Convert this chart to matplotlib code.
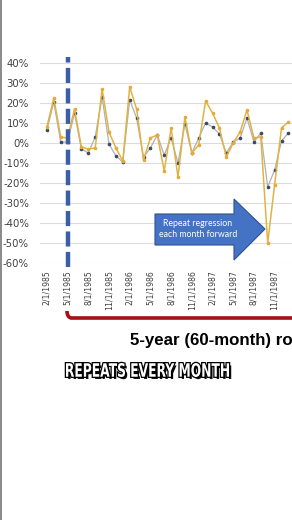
import numpy as np
import pandas as pd
import matplotlib
matplotlib.use("Agg")
import matplotlib.pyplot as plt
from matplotlib.patches import Polygon, PathPatch
from matplotlib.path import Path
from matplotlib.lines import Line2D
from matplotlib.textpath import TextPath
from matplotlib.font_manager import FontProperties
from matplotlib.transforms import Affine2D, IdentityTransform
import matplotlib.patheffects as pe

# monthly returns (%), Feb 1985 .. Jan 1988
months = pd.date_range("1985-02-01", periods=36, freq="MS")
gold_ret = [8, 22.5, 3, 2.5, 17, -2, -3, -2.5, 27, 5.5, -2.5, -9,
            28, 17, -8.5, 2.5, 4, -14, 7.5, -17, 13, -5, -1, 21,
            15, 7.5, -7, 0, 5.5, 16.5, 2.5, 3, -50, -21, 7.5, 10.5]
gray_ret = [6.5, 20.5, 0.5, 0.5, 15, -3, -5, 3, 23, -0.5, -6.5, -9.5,
            21.5, 12.5, -7, -2.5, 4, -6, 2.5, -10, 9.5, -5, 2.5, 10,
            8, 4.5, -5, 0.5, 2.5, 12.5, 0.5, 5, -22, -13.5, 1, 5]
y_ticks = [40, 30, 20, 10, 0, -10, -20, -30, -40, -50, -60]
tick_every = 3  # a date label every 3 months

W, H = 292, 520
fig = plt.figure(figsize=(W / 100, H / 100), dpi=100)
fig.patch.set_facecolor("white")

def fx(px):
    return px / W

def fy(py):
    return 1 - py / H

# axes in pixel terms: plot runs off the right edge like the screenshot
x_idx = np.arange(len(months))
px_per_month = 6.9
left_px = 40
x0 = -1
x1 = 40
ax = fig.add_axes([fx(left_px), fy(263), (x1 - x0) * px_per_month / W, (263 - 63) / H])
ax.set_xlim(x0, x1)
ax.set_ylim(-60, 40)

ax.plot(x_idx, gray_ret, color="#b0b0b0", lw=0.9, marker="o", ms=1.6,
        mfc="#3b4a66", mec="#3b4a66", zorder=3)
ax.plot(x_idx, gold_ret, color="#dfb445", lw=1.1, marker="o", ms=1.6,
        mfc="#e8a93a", mec="#e8a93a", zorder=4)

ax.set_yticks(y_ticks)
ax.set_yticklabels([f"{v}%" for v in y_ticks], fontsize=7.3, color="#404040")
tick_pos = x_idx[::tick_every]
ax.set_xticks(tick_pos)
ax.set_xticklabels([f"{d.month}/1/{d.year}" for d in months[::tick_every]],
                   rotation=90, fontsize=5.6, color="#404040")
ax.tick_params(length=0, pad=5)
ax.tick_params(axis="y", pad=8)
ax.grid(axis="y", color="#dcdcdc", lw=0.8)
ax.set_axisbelow(True)
for s in ax.spines.values():
    s.set_visible(False)

# dashed marker at the start of the window
ax.axvline(3, ymin=-0.02, ymax=1.03, color="#3a5ea8", lw=3.2,
           ls=(0, (3.4, 1.2)), clip_on=False, zorder=5)

# blue block arrow
arrow_pts = [(155, 214), (234, 214), (234, 199), (265, 229),
             (234, 260), (234, 245), (155, 245)]
fig.patches.append(Polygon([(fx(x), fy(y)) for x, y in arrow_pts], closed=True,
                           transform=fig.transFigure, facecolor="#4472c4",
                           edgecolor="#2f528f", lw=0.8, zorder=6))
fig.text(fx(198), fy(229), "Repeat regression\neach month forward", color="white",
         fontsize=6.3, family="Lato", ha="center", va="center",
         linespacing=1.3, zorder=7)

# red bracket under the axis
verts = [(fx(67), fy(311)), (fx(67), fy(317)), (fx(71), fy(318)), (fx(300), fy(318))]
codes = [Path.MOVETO, Path.CURVE3, Path.CURVE3, Path.LINETO]
fig.patches.append(PathPatch(Path(verts, codes), transform=fig.transFigure,
                             facecolor="none", edgecolor="#a11212", lw=2.6,
                             capstyle="butt"))

fig.text(fx(130), fy(340), "5-year (60-month) rolling window", fontsize=12.2,
         fontweight="bold", family="Liberation Sans", color="black",
         ha="left", va="center")

# condensed caption: squeeze a bold text path into the caption box
cap = TextPath((0, 0), "REPEATS EVERY MONTH", size=20,
               prop=FontProperties(family="DejaVu Sans", weight="bold"))
ext = cap.get_extents()
box_l, box_r, box_top, box_bot = 66, 229, 363, 377
sx = (box_r - box_l) / ext.width
sy = (box_bot - box_top) / ext.height
cap_tf = (Affine2D().translate(-ext.x0, -ext.y0).scale(sx, sy)
          .translate(box_l, H - box_bot))
cap_patch = PathPatch(cap_tf.transform_path(cap), transform=IdentityTransform(),
                      facecolor="white", edgecolor="none", zorder=8)
cap_patch.set_path_effects([
    pe.withSimplePatchShadow(offset=(1.6, -1.6), shadow_rgbFace="black", alpha=0.95),
    pe.Stroke(linewidth=1.8, foreground="black"), pe.Normal()])
fig.patches.append(cap_patch)

# thin grey frame edge on the left
fig.add_artist(Line2D([fx(0.7), fx(0.7)], [0, 1], transform=fig.transFigure,
                      color="#808080", lw=1.3))

fig.savefig("out.png", dpi=100)
